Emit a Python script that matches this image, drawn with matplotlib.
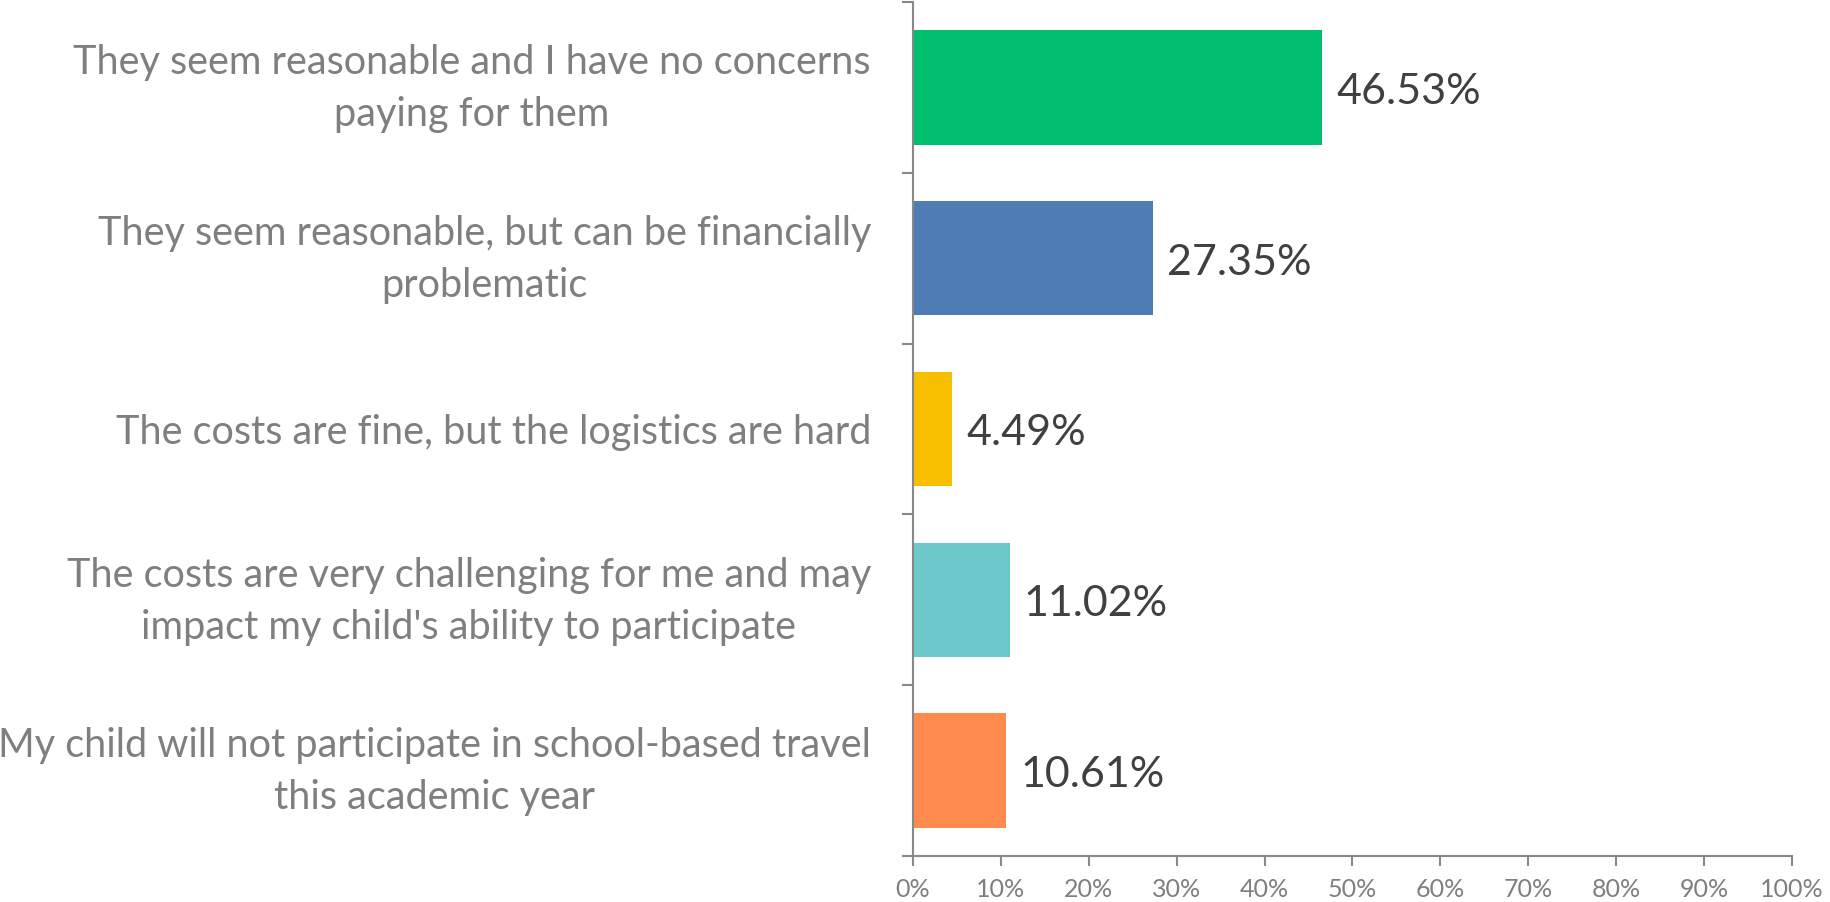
import matplotlib
matplotlib.use("Agg")
import matplotlib.pyplot as plt
from matplotlib.ticker import FixedLocator, PercentFormatter
from matplotlib.transforms import ScaledTranslation, blended_transform_factory

categories = [
    "They seem reasonable and I have no concerns\npaying for them",
    "They seem reasonable, but can be financially\nproblematic",
    "The costs are fine, but the logistics are hard",
    "The costs are very challenging for me and may\nimpact my child's ability to participate",
    "My child will not participate in school-based travel\nthis academic year",
]
values = [46.53, 27.35, 4.49, 11.02, 10.61]
colors = ["#00BF6F", "#4E7CB4", "#F8BE00", "#6CC8CB", "#FF8A4E"]
xticks = [0, 10, 20, 30, 40, 50, 60, 70, 80, 90, 100]

plt.rcParams['font.family'] = ['Lato', 'DejaVu Sans']

fig = plt.figure(figsize=(18.31, 9.03), dpi=100)
ax = fig.add_axes([0.4986, 0.051, 0.4801, 0.9457])

ypos = list(range(len(categories)))
ax.barh(ypos, values, height=0.67, color=colors)
ax.set_ylim(len(categories) - 0.5, -0.5)
ax.set_xlim(0, 100)

down = ScaledTranslation(0, -0.035, fig.dpi_scale_trans)
for y, v in zip(ypos, values):
    ax.text(v + 1.6, y, f"{v:.2f}%", va='center', ha='left', fontsize=31, color='#404040',
            transform=ax.transData + down)

# category labels
ax.set_yticks(ypos)
ax.set_yticklabels([])
base = blended_transform_factory(ax.transAxes, ax.transData)
for y, cat in zip(ypos, categories):
    dy = -0.003 if "\n" in cat else -0.03
    tr = base + ScaledTranslation(-0.42, dy, fig.dpi_scale_trans)
    ax.text(0, y, cat, transform=tr, ha='right', va='center', multialignment='center',
            fontsize=28.5, color='#7F7F7F', linespacing=1.5)

ax.yaxis.set_minor_locator(FixedLocator([i - 0.5 for i in range(len(categories) + 1)]))
ax.tick_params(axis='y', which='major', length=0)
ax.tick_params(axis='y', which='minor', length=8, color='#888888', width=1.5)

ax.set_xticks(xticks)
ax.xaxis.set_major_formatter(PercentFormatter(decimals=0))
ax.tick_params(axis='x', which='major', length=7, color='#888888', width=1.5,
               labelsize=18, labelcolor='#7F7F7F', pad=8)

for s in ['top', 'right']:
    ax.spines[s].set_visible(False)
for s in ['left', 'bottom']:
    ax.spines[s].set_color('#888888')
    ax.spines[s].set_linewidth(1.5)

fig.savefig("out.png", dpi=100)
